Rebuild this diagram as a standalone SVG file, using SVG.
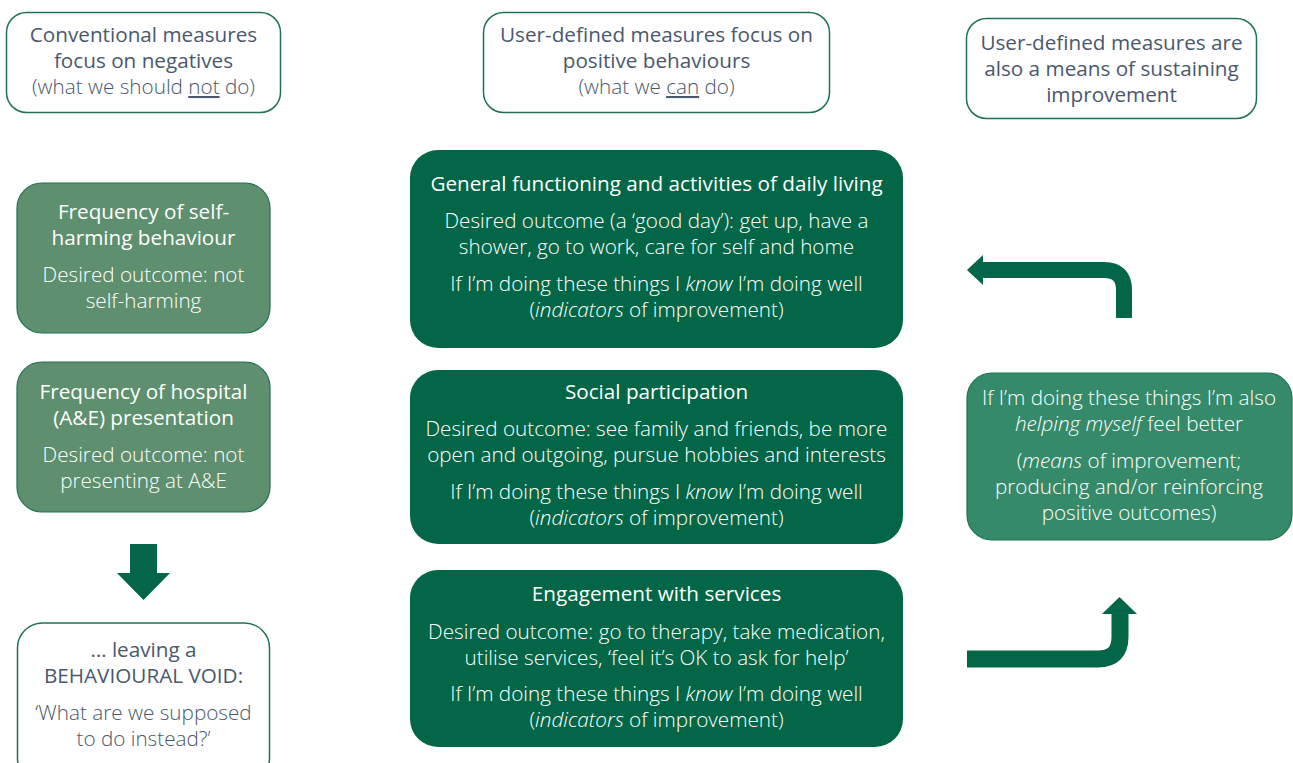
<svg xmlns="http://www.w3.org/2000/svg" width="1293" height="763" viewBox="0 0 1293 763">
<style>
.wb{fill:#ffffff;stroke:#1f7352;stroke-width:1.5}
.lg{fill:#5e8f6e;stroke:#1f7352;stroke-width:1.2}
.dg{fill:#036647}
.rg{fill:#358a6a;stroke:#1f7352;stroke-width:1.2}
text{font-family:"Open Sans","Noto Sans",sans-serif;font-size:20.7px;text-anchor:middle;font-weight:300}
.t{fill:#4a586e}
.w{fill:#ffffff}
.h{font-weight:400}
.i{font-style:italic}
.arr{fill:none;stroke:#036647}
.ah{fill:#036647}
</style>
<g id="head-conventional">
<rect class="wb" x="6.5" y="12.5" width="274" height="100" rx="20"/>
<text class="t h" x="143.5" y="42">Conventional measures</text>
<text class="t h" x="143.5" y="68">focus on negatives</text>
<text class="t" x="143.5" y="94">(what we should <tspan text-decoration="underline">not</tspan> do)</text>
</g>
<g id="head-userdefined">
<rect class="wb" x="483.5" y="12.5" width="346" height="100" rx="20"/>
<text class="t h" x="656.5" y="42">User-defined measures focus on</text>
<text class="t h" x="656.5" y="68">positive behaviours</text>
<text class="t" x="656.5" y="94">(what we <tspan text-decoration="underline">can</tspan> do)</text>
</g>
<g id="head-sustaining">
<rect class="wb" x="966.5" y="18.5" width="290" height="100" rx="20"/>
<text class="t h" x="1111.5" y="50">User-defined measures are</text>
<text class="t h" x="1111.5" y="76">also a means of sustaining</text>
<text class="t h" x="1111.5" y="102">improvement</text>
</g>
<g id="self-harm">
<rect class="lg" x="17" y="183" width="253" height="150" rx="25"/>
<text class="w h" x="143.5" y="219">Frequency of self-</text>
<text class="w h" x="143.5" y="245">harming behaviour</text>
<text class="w" x="143.5" y="282">Desired outcome: not</text>
<text class="w" x="143.5" y="308">self-harming</text>
</g>
<g id="hospital">
<rect class="lg" x="17" y="362" width="253" height="150" rx="25"/>
<text class="w h" x="143.5" y="399">Frequency of hospital</text>
<text class="w h" x="143.5" y="425">(A&amp;E) presentation</text>
<text class="w" x="143.5" y="462">Desired outcome: not</text>
<text class="w" x="143.5" y="488">presenting at A&amp;E</text>
</g>
<g id="void">
<rect class="wb" x="17.5" y="623" width="252" height="160" rx="25"/>
<text class="t h" x="143.5" y="657">… leaving a</text>
<text class="t h" x="143.5" y="683">BEHAVIOURAL VOID:</text>
<text class="t" x="143.5" y="720">‘What are we supposed</text>
<text class="t" x="143.5" y="746">to do instead?’</text>
</g>
<g id="daily-living">
<rect class="dg" x="410" y="150" width="493" height="198" rx="28"/>
<text class="w h" x="656.5" y="191">General functioning and activities of daily living</text>
<text class="w" x="656.5" y="228">Desired outcome (a ‘good day’): get up, have a</text>
<text class="w" x="656.5" y="254">shower, go to work, care for self and home</text>
<text class="w" x="656.5" y="291">If I’m doing these things I <tspan class="i">know</tspan> I’m doing well</text>
<text class="w" x="656.5" y="317">(<tspan class="i">indicators</tspan> of improvement)</text>
</g>
<g id="social">
<rect class="dg" x="410" y="370" width="493" height="174" rx="28"/>
<text class="w h" x="656.5" y="399">Social participation</text>
<text class="w" x="656.5" y="436">Desired outcome: see family and friends, be more</text>
<text class="w" x="656.5" y="462">open and outgoing, pursue hobbies and interests</text>
<text class="w" x="656.5" y="499">If I’m doing these things I <tspan class="i">know</tspan> I’m doing well</text>
<text class="w" x="656.5" y="525">(<tspan class="i">indicators</tspan> of improvement)</text>
</g>
<g id="services">
<rect class="dg" x="410" y="570" width="493" height="177" rx="28"/>
<text class="w h" x="656.5" y="601">Engagement with services</text>
<text class="w" x="656.5" y="639">Desired outcome: go to therapy, take medication,</text>
<text class="w" x="656.5" y="665">utilise services, ‘feel it’s OK to ask for help’</text>
<text class="w" x="656.5" y="701">If I’m doing these things I <tspan class="i">know</tspan> I’m doing well</text>
<text class="w" x="656.5" y="727">(<tspan class="i">indicators</tspan> of improvement)</text>
</g>
<g id="means">
<rect class="rg" x="967" y="373" width="325" height="167" rx="25"/>
<text class="w" x="1129" y="405">If I’m doing these things I’m also</text>
<text class="w" x="1129" y="431"><tspan class="i">helping myself</tspan> feel better</text>
<text class="w" x="1129" y="468">(<tspan class="i">means</tspan> of improvement;</text>
<text class="w" x="1129" y="494">producing and/or reinforcing</text>
<text class="w" x="1129" y="520">positive outcomes)</text>
</g>
<g id="connectors">
<polygon class="ah" points="130,544 157,544 157,573 170,573 143.5,600 117,573 130,573"/>
<path class="arr" stroke-width="16" d="M1124 318 V290 Q1124 270 1104 270 H982"/>
<polygon class="ah" points="967,270 983,255 983,285"/>
<path class="arr" stroke-width="17" d="M967 659 H1098 Q1120 659 1120 637 V613"/>
<polygon class="ah" points="1102,614 1137,614 1119.5,597"/>
</g>
</svg>
